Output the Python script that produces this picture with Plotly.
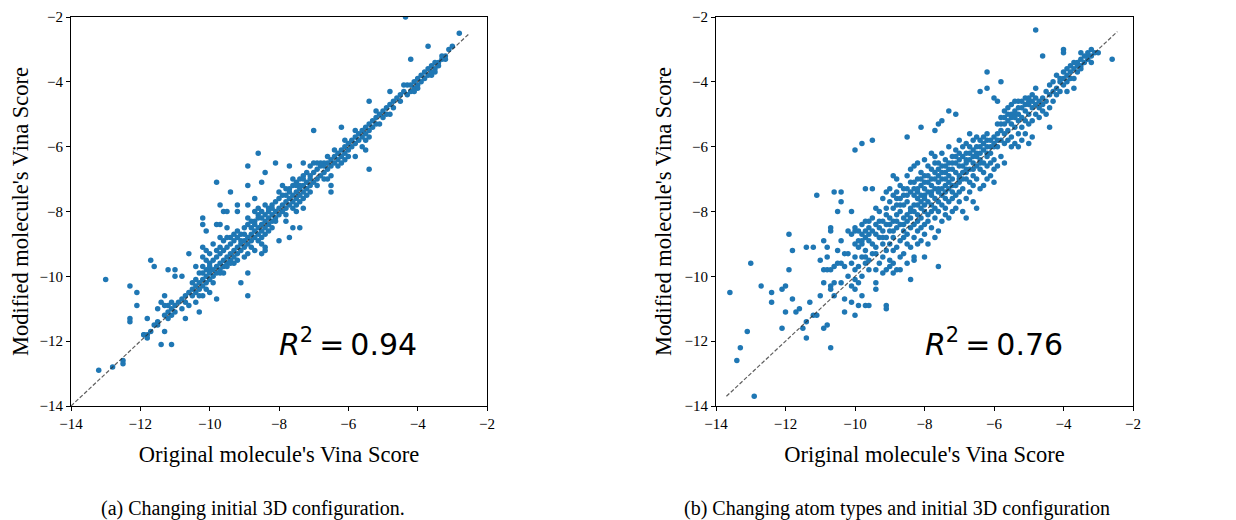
import plotly.graph_objects as go

# ---------------- Panel (a): changing initial 3D configuration ----------------
outliers_a = [
    (-4.35, -2.0), (-2.8, -2.5), (-3.7, -2.9), (-4.2, -3.3), (-4.8, -4.3), (-5.4, -4.6),
    (-7.0, -5.5), (-6.2, -5.4), (-5.4, -6.7), (-5.5, -6.1), (-5.8, -6.3), (-8.6, -6.2),
    (-8.9, -6.6), (-8.1, -6.5), (-7.7, -6.6), (-7.3, -6.5), (-8.4, -6.8), (-9.8, -7.1),
    (-8.9, -7.2), (-9.4, -7.4), (-8.5, -7.1), (-8.7, -7.6), (-9.7, -7.8), (-9.2, -7.8),
    (-9.6, -8.0), (-9.5, -8.0), (-9.2, -8.0), (-8.9, -7.8), (-10.2, -8.2), (-10.2, -8.4),
    (-10.1, -8.6), (-9.8, -8.4), (-9.7, -8.4), (-9.5, -8.5), (-10.6, -9.3), (-10.2, -9.1),
    (-10.1, -9.2), (-10.2, -9.4), (-10.4, -9.7), (-11.7, -9.5), (-11.6, -9.7), (-13.0, -10.1),
    (-12.3, -10.3), (-12.1, -10.5), (-12.1, -10.9), (-12.3, -11.3), (-12.3, -11.4),
    (-11.8, -11.3), (-11.5, -11.0), (-11.3, -10.6), (-11.2, -9.8), (-11.0, -9.8),
    (-11.0, -10.0), (-10.8, -10.0), (-11.3, -11.7), (-11.4, -12.1), (-11.1, -12.1),
    (-11.8, -11.8), (-11.9, -11.8), (-13.2, -12.9), (-12.8, -12.8), (-12.5, -12.6),
    (-12.5, -12.7), (-9.8, -10.7), (-8.9, -10.6), (-9.1, -10.2), (-8.9, -9.9), (-10.3, -11.1),
    (-10.7, -11.3), (-10.4, -10.8), (-8.0, -8.9), (-7.7, -8.8), (-7.4, -8.5), (-7.6, -8.5),
    (-8.4, -9.2), (-8.5, -9.3), (-7.8, -8.3), (-7.3, -7.9), (-7.5, -8.0), (-6.5, -7.2),
    (-6.5, -7.4),
]

band_a = [
    # -3 .. -4.5
    (-3.0, -2.9), (-3.1, -3.0), (-3.2, -3.2), (-3.2, -3.3), (-3.3, -3.3), (-3.4, -3.4),
    (-3.4, -3.5), (-3.5, -3.4), (-3.5, -3.6), (-3.6, -3.5), (-3.6, -3.7), (-3.7, -3.6),
    (-3.7, -3.8), (-3.8, -3.7), (-3.8, -3.9), (-3.9, -3.8), (-3.9, -4.0), (-4.0, -3.9),
    (-4.0, -4.1), (-4.1, -4.0), (-4.1, -4.2), (-4.2, -4.1), (-4.2, -4.3), (-4.3, -4.1),
    (-4.3, -4.4), (-4.4, -4.3), (-4.4, -4.1), (-4.5, -4.4), (-4.5, -4.6), (-3.5, -3.7),
    (-3.6, -3.8), (-4.0, -4.2), (-4.1, -4.3), (-3.3, -3.2),
    # -4.5 .. -6
    (-4.6, -4.5), (-4.7, -4.6), (-4.7, -4.8), (-4.8, -4.7), (-4.9, -4.8), (-4.9, -5.0),
    (-5.0, -4.9), (-5.0, -5.1), (-5.1, -5.0), (-5.2, -5.1), (-5.2, -5.3), (-5.3, -5.2),
    (-5.3, -5.4), (-5.4, -5.3), (-5.4, -5.5), (-5.5, -5.4), (-5.5, -5.6), (-5.6, -5.5),
    (-5.6, -5.7), (-5.7, -5.6), (-5.7, -5.8), (-5.8, -5.7), (-5.8, -5.9), (-5.9, -5.8),
    (-5.9, -6.0), (-6.0, -5.9), (-6.0, -6.1), (-5.5, -5.8), (-5.6, -6.0), (-5.4, -5.7),
    (-5.1, -5.3), (-4.8, -5.0), (-6.1, -5.8), (-5.8, -5.5), (-5.2, -4.9),
    # -6 .. -7
    (-6.1, -6.0), (-6.1, -6.2), (-6.2, -6.1), (-6.2, -6.3), (-6.3, -6.2), (-6.3, -6.4),
    (-6.4, -6.3), (-6.4, -6.5), (-6.5, -6.4), (-6.5, -6.6), (-6.6, -6.5), (-6.6, -6.7),
    (-6.7, -6.5), (-6.7, -6.8), (-6.8, -6.6), (-6.8, -6.9), (-6.9, -6.7), (-6.9, -7.0),
    (-7.0, -6.8), (-7.0, -7.1), (-6.2, -6.5), (-6.3, -6.6), (-6.0, -6.3), (-6.4, -6.1),
    (-6.6, -6.3), (-6.8, -6.5), (-6.9, -6.5), (-7.0, -6.5), (-7.1, -6.6), (-6.7, -7.0),
    (-6.9, -7.2), (-7.1, -7.4), (-6.5, -6.9), (-6.6, -7.0), (-6.7, -6.6), (-6.1, -6.4),
    # -7 .. -8
    (-7.1, -7.0), (-7.1, -7.2), (-7.2, -7.1), (-7.2, -7.3), (-7.3, -7.2), (-7.3, -7.4),
    (-7.4, -7.3), (-7.4, -7.5), (-7.5, -7.4), (-7.5, -7.6), (-7.6, -7.5), (-7.6, -7.7),
    (-7.7, -7.6), (-7.7, -7.8), (-7.8, -7.7), (-7.8, -7.9), (-7.9, -7.8), (-7.9, -8.0),
    (-8.0, -7.9), (-8.0, -8.1), (-7.2, -6.8), (-7.3, -6.9), (-7.4, -7.0), (-7.5, -7.1),
    (-7.6, -7.2), (-7.7, -7.3), (-7.8, -7.3), (-7.9, -7.5), (-8.0, -7.6), (-7.3, -7.0),
    (-7.5, -7.2), (-7.7, -7.4), (-7.9, -7.2), (-8.0, -7.4), (-7.2, -7.5), (-7.4, -7.7),
    (-7.6, -7.9), (-7.8, -8.1), (-7.5, -7.8), (-7.3, -7.6), (-7.1, -6.9), (-7.6, -7.0),
    (-7.8, -7.5), (-7.4, -7.2),
    # -8 .. -9
    (-8.1, -8.0), (-8.1, -8.2), (-8.2, -8.1), (-8.2, -8.3), (-8.3, -8.2), (-8.3, -8.4),
    (-8.4, -8.3), (-8.4, -8.5), (-8.5, -8.4), (-8.5, -8.6), (-8.6, -8.5), (-8.6, -8.7),
    (-8.7, -8.6), (-8.7, -8.8), (-8.8, -8.7), (-8.8, -8.9), (-8.9, -8.8), (-8.9, -9.0),
    (-9.0, -8.9), (-9.0, -9.1), (-8.1, -7.7), (-8.2, -7.8), (-8.3, -7.9), (-8.4, -7.8),
    (-8.5, -8.0), (-8.6, -8.1), (-8.7, -8.3), (-8.8, -8.3), (-8.9, -8.4), (-9.0, -8.5),
    (-8.2, -7.9), (-8.4, -8.1), (-8.6, -8.2), (-8.8, -8.5), (-9.0, -8.7), (-8.3, -8.0),
    (-8.5, -8.2), (-8.7, -8.0), (-8.9, -8.2), (-8.6, -7.9), (-8.2, -8.5), (-8.4, -8.7),
    (-8.6, -8.9), (-8.8, -9.1), (-8.5, -9.0), (-8.4, -9.1), (-8.7, -9.2), (-8.9, -9.3),
    (-8.3, -8.6), (-8.1, -8.3), (-8.5, -8.8), (-8.7, -8.4),
    # -9 .. -10
    (-9.1, -9.0), (-9.1, -9.2), (-9.2, -9.1), (-9.2, -9.3), (-9.3, -9.2), (-9.3, -9.4),
    (-9.4, -9.3), (-9.4, -9.5), (-9.5, -9.4), (-9.5, -9.6), (-9.6, -9.5), (-9.6, -9.7),
    (-9.7, -9.6), (-9.7, -9.8), (-9.8, -9.7), (-9.8, -9.9), (-9.9, -9.8), (-9.9, -10.0),
    (-10.0, -9.9), (-10.0, -10.1), (-9.1, -8.7), (-9.2, -8.8), (-9.3, -8.9), (-9.4, -9.0),
    (-9.5, -9.1), (-9.6, -9.2), (-9.7, -9.3), (-9.8, -9.4), (-9.9, -9.5), (-10.0, -9.6),
    (-9.2, -8.6), (-9.4, -8.8), (-9.6, -8.9), (-9.3, -8.7), (-9.5, -8.8), (-9.7, -8.8),
    (-9.1, -8.9), (-9.3, -9.6), (-9.5, -9.7), (-9.7, -9.9), (-9.9, -10.2), (-9.6, -9.9),
    (-9.2, -9.5), (-9.0, -9.4), (-9.8, -9.2), (-10.0, -9.3), (-9.9, -9.0), (-9.7, -9.1),
    (-10.0, -9.8), (-9.4, -9.6),
    # -10 .. -11
    (-10.1, -10.0), (-10.1, -10.2), (-10.2, -10.1), (-10.2, -10.3), (-10.3, -10.2),
    (-10.3, -10.4), (-10.4, -10.3), (-10.4, -10.5), (-10.5, -10.4), (-10.5, -10.6),
    (-10.6, -10.5), (-10.7, -10.6), (-10.7, -10.8), (-10.8, -10.7), (-10.9, -10.8),
    (-11.0, -10.9), (-10.1, -9.8), (-10.2, -9.9), (-10.3, -9.9), (-10.4, -10.1),
    (-10.5, -10.2), (-10.1, -10.4), (-10.2, -10.6), (-10.0, -10.5), (-10.3, -10.6),
    (-10.6, -10.9), (-10.8, -11.0), (-10.1, -9.5), (-10.2, -9.7), (-10.0, -9.7),
    # -11 .. -12
    (-11.1, -11.0), (-11.1, -11.2), (-11.2, -11.1), (-11.3, -11.2), (-11.2, -10.9),
    (-11.1, -10.8), (-11.3, -10.9), (-11.4, -10.8), (-11.0, -11.1), (-11.2, -11.3),
    (-11.5, -11.5), (-11.6, -11.5), (-11.7, -11.7), (-11.9, -11.8), (-11.8, -11.9),
    (-11.5, -11.4),
]
diag_a = [-14.0, -2.5]

# ---------------- Panel (b): changing atom types and initial 3D configuration ----------------
outliers_b = [
    (-4.8, -2.4), (-2.6, -3.3), (-4.0, -3.0), (-4.0, -3.1), (-4.6, -3.2), (-3.5, -3.1),
    (-3.2, -3.0), (-3.3, -3.2), (-3.0, -3.1), (-5.8, -4.0), (-6.2, -3.7), (-6.2, -4.2),
    (-6.4, -4.3), (-6.0, -4.5), (-5.9, -4.6), (-7.3, -4.9), (-7.1, -5.0), (-7.5, -5.2),
    (-7.6, -5.3), (-7.7, -5.5), (-8.1, -5.4), (-8.5, -5.7), (-9.5, -5.8), (-9.8, -5.9),
    (-10.0, -6.1), (-11.1, -7.5), (-10.6, -7.4), (-10.4, -7.4), (-10.4, -7.7), (-10.5, -8.0),
    (-10.1, -8.0), (-9.7, -7.3), (-9.5, -7.3), (-11.9, -8.7), (-11.8, -9.2), (-11.4, -9.1),
    (-11.2, -9.1), (-11.0, -9.5), (-10.8, -9.1), (-10.7, -8.5), (-13.0, -9.6), (-13.6, -10.5),
    (-12.7, -10.3), (-12.4, -10.5), (-12.4, -10.8), (-12.1, -10.4), (-12.0, -10.3),
    (-11.9, -9.8), (-11.8, -10.7), (-12.0, -11.1), (-11.7, -11.1), (-11.6, -11.0),
    (-12.1, -11.6), (-11.5, -11.6), (-11.4, -11.4), (-11.4, -11.9), (-11.3, -10.8),
    (-11.2, -11.2), (-11.1, -11.2), (-13.1, -11.7), (-13.3, -12.2), (-13.4, -12.6),
    (-12.9, -13.7), (-10.7, -12.2), (-10.9, -11.6), (-10.8, -11.5), (-11.0, -10.6),
    (-10.9, -10.2), (-10.7, -10.3), (-10.7, -10.4), (-10.6, -10.6), (-10.4, -10.2),
    (-10.3, -10.7), (-10.3, -11.1), (-10.1, -10.8), (-10.0, -11.2), (-10.0, -10.4),
    (-9.9, -10.9), (-9.7, -10.9), (-9.6, -10.9), (-9.8, -10.6), (-9.1, -10.9), (-9.1, -11.0),
    (-9.4, -10.4), (-9.4, -10.2), (-8.4, -10.1), (-7.6, -9.7), (-8.0, -9.4), (-8.3, -9.5),
    (-8.7, -9.8), (-8.9, -9.9),
]

cloud_b = [
    (-10.9, [-9.8, -8.9]), (-10.8, [-9.8, -9.4]), (-10.7, [-9.8, -8.6]),
    (-10.6, [-9.7, -10.2]), (-10.5, [-9.6, -9.2]), (-10.4, [-9.6, -8.9]),
    (-10.3, [-9.3, -9.7]), (-10.2, [-8.6, -9.3, -10.0]), (-10.1, [-8.7, -9.6, -10.3]),
    (-10.0, [-8.5, -8.6, -9.0, -9.4, -9.8, -10.1]), (-9.9, [-8.6, -8.9, -9.1, -9.7, -10.2]),
    (-9.8, [-8.4, -8.7, -8.9, -9.0, -9.4, -10.0]), (-9.7, [-8.3, -8.6, -8.8, -9.2, -9.4, -9.6]),
    (-9.6, [-8.3, -8.5, -8.7, -8.9, -9.5, -9.8]), (-9.5, [-8.2, -8.6, -9.0, -9.3]),
    (-9.4, [-7.9, -8.4, -8.7, -9.1, -9.3, -9.8]), (-9.3, [-8.0, -8.3, -8.5, -8.8, -9.6]),
    (-9.2, [-7.6, -8.3, -8.6, -8.8, -9.0, -9.4, -9.9]),
    (-9.1, [-7.4, -7.9, -8.1, -8.4, -8.8, -9.2, -9.8]),
    (-9.0, [-7.3, -7.7, -8.2, -8.4, -8.6, -9.0, -9.5, -9.7]),
    (-8.9, [-6.9, -7.5, -7.9, -8.3, -8.6, -8.8, -9.2, -9.6]),
    (-8.8, [-7.0, -7.4, -7.6, -7.8, -8.1, -8.3, -8.5, -9.1, -9.8]),
    (-8.7, [-7.2, -7.6, -7.8, -8.0, -8.4, -8.9, -9.4]),
    (-8.6, [-7.3, -7.5, -7.8, -8.2, -8.4, -8.6, -8.8, -9.3]),
    (-8.5, [-6.9, -7.3, -7.5, -7.7, -8.1, -8.3, -8.7, -9.0, -9.6]),
    (-8.4, [-6.7, -7.1, -7.4, -7.9, -8.0, -8.2, -8.5, -9.1]),
    (-8.3, [-6.6, -7.1, -7.3, -7.5, -7.8, -8.0, -8.4, -8.8, -9.4]),
    (-8.2, [-6.5, -7.0, -7.3, -7.4, -7.6, -7.8, -8.1, -8.3, -8.6, -9.0]),
    (-8.1, [-6.8, -7.0, -7.2, -7.5, -7.7, -7.9, -8.2, -8.5, -8.9]),
    (-8.0, [-6.4, -6.9, -7.1, -7.3, -7.5, -7.6, -7.8, -8.0, -8.4, -8.7]),
    (-7.9, [-6.6, -6.9, -7.1, -7.4, -7.7, -8.1, -8.3, -9.0]),
    (-7.8, [-6.2, -6.7, -7.0, -7.2, -7.4, -7.5, -7.8, -8.0, -8.5]),
    (-7.7, [-6.3, -6.5, -6.8, -7.0, -7.3, -7.6, -7.9, -8.2, -8.8]),
    (-7.6, [-6.5, -6.7, -6.9, -7.1, -7.3, -7.4, -7.7, -8.0, -8.6]),
    (-7.5, [-6.2, -6.6, -6.8, -7.0, -7.3, -7.5, -7.8, -8.3]),
    (-7.4, [-6.4, -6.6, -6.8, -7.0, -7.2, -7.4, -7.6, -7.9, -8.1]),
    (-7.3, [-6.0, -6.5, -6.7, -6.9, -7.1, -7.3, -7.7, -8.2]),
    (-7.2, [-6.3, -6.5, -6.7, -7.0, -7.2, -7.4, -7.6, -8.0]),
    (-7.1, [-6.1, -6.3, -6.5, -6.8, -7.2, -7.5, -7.9]),
    (-7.0, [-5.8, -6.2, -6.4, -6.6, -6.9, -7.0, -7.1, -7.4, -7.7]),
    (-6.9, [-6.0, -6.3, -6.6, -6.8, -7.0, -7.3, -8.0]),
    (-6.8, [-5.9, -6.2, -6.4, -6.5, -6.7, -6.8, -7.0, -7.6, -8.2]),
    (-6.7, [-5.6, -6.0, -6.2, -6.4, -6.7, -7.1, -7.4]),
    (-6.6, [-5.8, -6.1, -6.3, -6.5, -6.7, -6.9, -7.2, -7.7]),
    (-6.5, [-5.7, -6.0, -6.2, -6.3, -6.6, -7.0, -7.9]),
    (-6.4, [-5.8, -6.0, -6.2, -6.4, -6.5, -6.7, -7.3]),
    (-6.3, [-5.7, -5.9, -6.1, -6.5, -6.8, -7.2]),
    (-6.2, [-5.6, -5.8, -6.0, -6.2, -6.3, -6.6, -7.0]),
    (-6.1, [-5.8, -6.0, -6.2, -6.5, -6.9]),
    (-6.0, [-5.7, -5.9, -6.0, -6.4, -6.7, -7.1]),
    (-5.9, [-5.3, -5.6, -5.8, -6.0, -6.6]),
    (-5.8, [-5.1, -5.3, -5.5, -5.8, -6.3]),
    (-5.7, [-4.9, -5.1, -5.3, -5.6, -5.9, -6.5]),
    (-5.6, [-4.8, -5.0, -5.2, -5.5, -5.8]),
    (-5.5, [-4.7, -5.0, -5.1, -5.3, -5.7, -6.0]),
    (-5.4, [-4.6, -4.9, -5.0, -5.1, -5.4, -5.9]),
    (-5.3, [-4.6, -4.8, -5.0, -5.2, -5.6, -6.0]),
    (-5.2, [-4.6, -4.8, -5.1, -5.4, -5.8]),
    (-5.1, [-4.5, -4.7, -4.9, -5.2, -5.6]),
    (-5.0, [-4.5, -4.6, -4.7, -5.0, -5.3, -5.9]),
    (-4.9, [-4.4, -4.6, -4.8, -5.2, -5.7]),
    (-4.8, [-4.2, -4.5, -4.7, -5.0]),
    (-4.7, [-4.6, -4.8, -5.1]),
    (-4.6, [-4.5, -4.7, -4.9]),
    (-4.5, [-4.3, -4.6, -5.0]),
    (-4.4, [-4.1, -4.4, -4.8, -5.4]),
    (-4.3, [-4.0, -4.3, -4.6]),
    (-4.2, [-3.8, -4.2, -4.4]),
    (-4.1, [-3.9, -4.0, -4.3]),
    (-4.0, [-3.7, -3.9, -4.1]),
    (-3.9, [-3.6, -3.8, -4.0, -4.3]),
    (-3.8, [-3.5, -3.7, -3.9]),
    (-3.7, [-3.4, -3.6, -3.9, -4.2]),
    (-3.6, [-3.4, -3.5, -3.7]),
    (-3.5, [-3.3, -3.5, -3.6]),
    (-3.4, [-3.2, -3.4]),
    (-3.3, [-3.1, -3.3]),
    (-3.2, [-3.2, -3.4]),
    (-3.1, [-3.1]),
]
diag_b = [-13.7, -2.45]

x_ticks = [-14, -12, -10, -8, -6, -4, -2]
r2_texts = ["0.94", "0.76"]
captions = ["(a) Changing initial 3D configuration.",
            "(b) Changing atom types and initial 3D configuration"]

# --------------------------------------------------------------------------------
pts_a = outliers_a + band_a
xa = [p[0] for p in pts_a]
ya = [p[1] for p in pts_a]
pts_b = list(outliers_b) + [(x, y) for x, ys in cloud_b for y in ys]
xb = [p[0] for p in pts_b]
yb = [p[1] for p in pts_b]

BLUE = "#1f77b4"
SERIF = "Liberation Serif, Times New Roman, serif"

fig = go.Figure()
for xs, ys, dg, xr, yr in [(xa, ya, diag_a, "x", "y"), (xb, yb, diag_b, "x2", "y2")]:
    fig.add_trace(go.Scatter(x=xs, y=ys, mode="markers", xaxis=xr, yaxis=yr,
                             marker=dict(color=BLUE, size=5.5, line=dict(width=0)),
                             hoverinfo="x+y"))
    fig.add_trace(go.Scatter(x=dg, y=dg, mode="lines", xaxis=xr, yaxis=yr,
                             line=dict(color="rgba(40,40,40,0.75)", width=1.2, dash="4px,2px"),
                             hoverinfo="skip"))

# The page body adds an 8 px offset, so the figure is 8 px smaller and shifted.
W, H = 1228, 512
OFF = 8
axis_common = dict(range=[-14, -2], tickmode="array", tickvals=x_ticks,
                   ticks="outside", ticklen=4, tickwidth=1, tickcolor="black",
                   showline=True, linecolor="black", linewidth=1, mirror=True,
                   showgrid=False, zeroline=False, automargin=False,
                   ticklabeloverflow="allow",
                   tickfont=dict(family=SERIF, size=15, color="black"))
xdom_a = [(71 - OFF) / W, (487 - OFF) / W]
xdom_b = [(716 - OFF) / W, (1133 - OFF) / W]
ydom = [1 - (406 - OFF) / H, 1 - (17 - OFF) / H]
xtitle = dict(text="Original molecule's Vina Score", standoff=15,
              font=dict(family=SERIF, size=22.5, color="black"))
ytitle = dict(text="Modified molecule's Vina Score", standoff=6,
              font=dict(family=SERIF, size=22.5, color="black"))

fig.update_layout(
    width=W, height=H, margin=dict(l=0, r=0, t=0, b=0, autoexpand=False),
    paper_bgcolor="white", plot_bgcolor="white", showlegend=False,
    xaxis=dict(domain=xdom_a, anchor="y", **axis_common, title=xtitle),
    yaxis=dict(domain=ydom, anchor="x", **axis_common, title=ytitle),
    xaxis2=dict(domain=xdom_b, anchor="y2", **axis_common, title=xtitle),
    yaxis2=dict(domain=ydom, anchor="x2", **axis_common, title=ytitle),
)

for xr, yr, r2 in [("x", "y", r2_texts[0]), ("x2", "y2", r2_texts[1])]:
    fig.add_annotation(x=-6.0, y=-12.05, xref=xr, yref=yr, showarrow=False,
                       text="<i>R</i><sup>2</sup>\u2009=\u2009" + r2,
                       font=dict(family="DejaVu Sans", size=30, color="black"),
                       xanchor="center", yanchor="middle")

for cx, cap in zip([(253 - OFF) / W, (897 - OFF) / W], captions):
    fig.add_annotation(x=cx, y=1 - (508 - OFF) / H, xref="paper", yref="paper",
                       showarrow=False, text=cap,
                       font=dict(family=SERIF, size=20, color="black"),
                       xanchor="center", yanchor="middle")

fig.write_html("out.html")
